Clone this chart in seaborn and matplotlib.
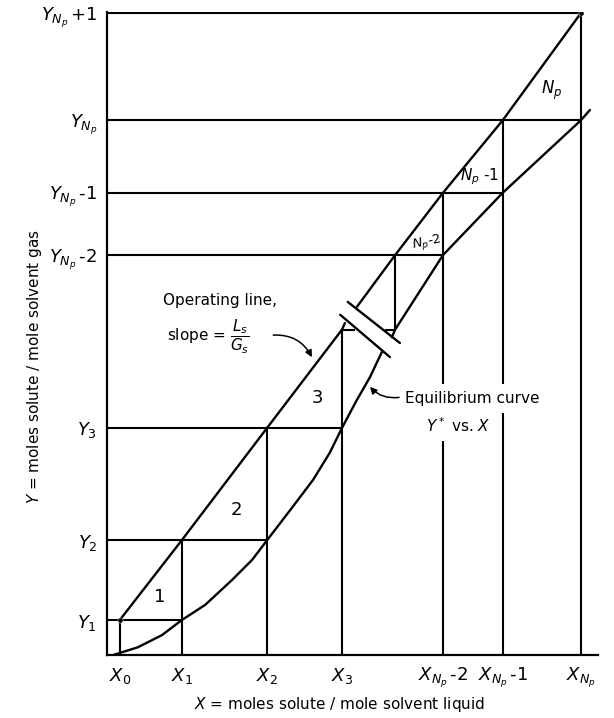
import numpy as np
import pandas as pd
import matplotlib
matplotlib.use("Agg")
import matplotlib.pyplot as plt
import seaborn as sns

# ---- values (dimensionless, X_Np = Y_Np+1 = 1) ----
x_ticks = [0.027, 0.158, 0.338, 0.496, 0.709, 0.835, 1.000]
x_labels = [r'$X_0$', r'$X_1$', r'$X_2$', r'$X_3$',
            r'$X_{N_p}\,$-2', r'$X_{N_p}\,$-1', r'$X_{N_p}$']
y_ticks = [0.0545, 0.179, 0.354, 0.623, 0.720, 0.833, 1.000]
y_labels = [r'$Y_1$', r'$Y_2$', r'$Y_3$', r'$Y_{N_p}\,$-2',
            r'$Y_{N_p}\,$-1', r'$Y_{N_p}$', r'$Y_{N_p}\,$+1']

# operating line (split by the break)
op_lower_x = [0.027, 0.158, 0.338, 0.496, 0.502]
op_lower_y = [0.0545, 0.179, 0.354, 0.507, 0.517]
op_upper_x = [0.527, 0.608, 0.709, 0.835, 1.000]
op_upper_y = [0.542, 0.623, 0.720, 0.833, 1.000]

# equilibrium curve (split by the break)
eq_lower_x = [0.013, 0.065, 0.116, 0.158, 0.207, 0.264, 0.306, 0.338,
              0.392, 0.435, 0.470, 0.496, 0.527, 0.555, 0.580]
eq_lower_y = [0.000, 0.012, 0.031, 0.0545, 0.078, 0.117, 0.148, 0.179,
              0.231, 0.273, 0.315, 0.354, 0.397, 0.433, 0.472]
eq_upper_x = [0.601, 0.608, 0.709, 0.835, 1.000, 1.019]
eq_upper_y = [0.495, 0.507, 0.623, 0.720, 0.833, 0.849]

# stage construction: horizontal segments (y, x from, x to)
h_y = [0.0545, 0.179, 0.354, 0.507, 0.507, 0.623, 0.720, 0.833, 1.000]
h_x0 = [0.0, 0.0, 0.0, 0.496, 0.586, 0.0, 0.0, 0.0, 0.0]
h_x1 = [0.158, 0.338, 0.496, 0.523, 0.608, 0.709, 0.835, 1.000, 1.000]
# vertical segments (x, y from, y to)
v_x = [0.027, 0.158, 0.338, 0.496, 0.608, 0.709, 0.835, 1.000]
v_y0 = [0.0, 0.0, 0.0, 0.0, 0.507, 0.0, 0.0, 0.0]
v_y1 = [0.0545, 0.179, 0.354, 0.507, 0.623, 0.720, 0.833, 1.000]

# break marks
brkA_x = [0.508, 0.618]
brkA_y = [0.550, 0.486]
brkB_x = [0.492, 0.597]
brkB_y = [0.530, 0.464]

# end points
dot_x = [0.027, 1.000]
dot_y = [0.0545, 1.000]

# stage labels
stage_text = ['1', '2', '3', r'$N_p$-2', r'$N_p$ -1', r'$N_p$']
stage_x = [0.112, 0.274, 0.443, 0.675, 0.787, 0.939]
stage_y = [0.090, 0.226, 0.400, 0.642, 0.745, 0.880]
stage_size = [13, 13, 13, 9.5, 11, 12]
stage_rot = [0, 0, 0, 12, 0, 0]

sns.set_theme(style="white")
plt.rcParams['font.family'] = ['DejaVu Sans']
plt.rcParams['text.color'] = 'black'
plt.rcParams['axes.labelcolor'] = 'black'
plt.rcParams['xtick.color'] = 'black'
plt.rcParams['ytick.color'] = 'black'

fig = plt.figure(figsize=(6.14, 7.18), dpi=100)
ax = fig.add_axes([107/614, 63/718, 491/614, 643/718])

lw = 1.7
for xs, ys in [(op_lower_x, op_lower_y), (op_upper_x, op_upper_y),
               (eq_lower_x, eq_lower_y), (eq_upper_x, eq_upper_y),
               (brkA_x, brkA_y), (brkB_x, brkB_y)]:
    df = pd.DataFrame({'x': xs, 'y': ys})
    sns.lineplot(data=df, x='x', y='y', sort=False, estimator=None,
                 color='black', linewidth=lw, ax=ax)

ax.hlines(h_y, h_x0, h_x1, colors='black', linewidth=1.5)
ax.vlines(v_x, v_y0, v_y1, colors='black', linewidth=1.5)
sns.scatterplot(x=dot_x, y=dot_y, color='black', s=14, ax=ax, zorder=5)

for t, x, y, s, r in zip(stage_text, stage_x, stage_y, stage_size, stage_rot):
    ax.text(x, y, t, fontsize=s, rotation=r, ha='center', va='center')

# annotations
ax.text(0.118, 0.552, 'Operating line,', fontsize=11, ha='left', va='center')
ax.text(0.127, 0.496, r'slope = $\dfrac{L_s}{G_s}$', fontsize=11,
        ha='left', va='center')
ax.annotate('', xy=(0.435, 0.460), xytext=(0.345, 0.498),
            arrowprops=dict(arrowstyle='-|>', color='black', lw=1.1,
                            connectionstyle='arc3,rad=-0.35',
                            mutation_scale=10))

ax.text(0.629, 0.400, 'Equilibrium curve', fontsize=11, ha='left',
        va='center', zorder=6,
        bbox=dict(boxstyle='square,pad=0.45', fc='white', ec='none'))
ax.text(0.741, 0.358, r'$Y^*$ vs. $X$', fontsize=11, ha='center',
        va='center', zorder=6,
        bbox=dict(boxstyle='square,pad=0.45', fc='white', ec='none'))
ax.annotate('', xy=(0.551, 0.421), xytext=(0.622, 0.402),
            arrowprops=dict(arrowstyle='-|>', color='black', lw=1.1,
                            connectionstyle='arc3,rad=-0.3',
                            mutation_scale=10), zorder=7)

ax.set_xlim(0, 1.036)
ax.set_ylim(0, 1.0016)
ax.set_xticks(x_ticks)
ax.set_xticklabels(x_labels)
ax.set_yticks(y_ticks)
ax.set_yticklabels(y_labels)
ax.tick_params(axis='both', length=0, labelsize=13, colors='black')
ax.tick_params(axis='y', pad=7)
ax.tick_params(axis='x', pad=8)

ax.set_xlabel(r'$X$ = moles solute / mole solvent liquid', fontsize=11)
ax.set_ylabel(r'$Y$ = moles solute / mole solvent gas', fontsize=11)
ax.xaxis.set_label_coords(0.4745, -0.062)
ax.yaxis.set_label_coords(-0.128, 0.448)

for side in ['top', 'right']:
    ax.spines[side].set_visible(False)
for side in ['left', 'bottom']:
    ax.spines[side].set_color('black')
    ax.spines[side].set_linewidth(1.6)
ax.grid(False)

fig.savefig('out.png', dpi=100)
